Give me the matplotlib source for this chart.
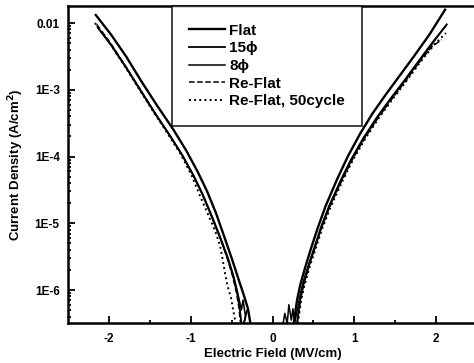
# J-E curves (log scale) for flat / patterned electrodes

import numpy as np
import matplotlib
matplotlib.use("Agg")
import matplotlib.pyplot as plt

OUTPUT = "out.png"

# ---- data: field (MV/cm), log10 current density (A/cm2) ----
flat_left_e = [-2.16, -1.97, -1.79, -1.61, -1.42, -1.21, -1.05, -0.91, -0.80, -0.69,
               -0.59, -0.50, -0.42, -0.35, -0.30, -0.27]
flat_left_j = [-1.88, -2.18, -2.50, -2.86, -3.22, -3.60, -3.92, -4.24, -4.52, -4.85,
               -5.20, -5.52, -5.82, -6.08, -6.28, -6.50]
flat_right_e = [0.26, 0.30, 0.34, 0.40, 0.47, 0.55, 0.65, 0.79, 0.92, 1.07,
                1.22, 1.38, 1.56, 1.74, 1.92, 2.11]
flat_right_j = [-6.50, -6.15, -5.92, -5.66, -5.38, -5.08, -4.74, -4.34, -4.00, -3.66,
                -3.36, -3.08, -2.78, -2.48, -2.17, -1.80]

p15_left_e = [-2.14, -1.98, -1.80, -1.62, -1.44, -1.27, -1.11, -0.97, -0.86, -0.75,
              -0.64, -0.55, -0.48, -0.43, -0.40, -0.38]
p15_left_j = [-2.06, -2.32, -2.65, -3.00, -3.35, -3.66, -3.97, -4.28, -4.56, -4.88,
              -5.22, -5.52, -5.80, -6.06, -6.28, -6.50]
p15_right_e = [0.30, 0.34, 0.38, 0.45, 0.52, 0.60, 0.70, 0.84, 0.97, 1.12,
               1.28, 1.44, 1.62, 1.80, 1.97, 2.13]
p15_right_j = [-6.50, -6.15, -5.92, -5.62, -5.36, -5.06, -4.74, -4.36, -4.04, -3.72,
               -3.42, -3.15, -2.86, -2.56, -2.28, -2.02]

p8_left_e = [-2.13, -1.97, -1.79, -1.61, -1.43, -1.26, -1.10, -0.96, -0.85, -0.74,
             -0.63, -0.54, -0.47, -0.42, -0.38, -0.36, -0.33, -0.35, -0.31]
p8_left_j = [-2.08, -2.33, -2.66, -3.01, -3.36, -3.67, -3.98, -4.29, -4.57, -4.89,
             -5.23, -5.53, -5.81, -6.07, -6.30, -6.15, -6.40, -6.50, -6.30]
p8_right_e = [0.13, 0.15, 0.18, 0.20, 0.23, 0.25, 0.27, 0.29, 0.33, 0.37, 0.44, 0.51,
              0.59, 0.69, 0.83, 0.96, 1.11, 1.27, 1.43, 1.61, 1.79, 1.96, 2.12]
p8_right_j = [-6.50, -6.35, -6.50, -6.22, -6.45, -6.28, -6.50, -6.38, -6.12, -5.90,
              -5.62, -5.36, -5.06, -4.74, -4.36, -4.04, -3.72, -3.42, -3.15, -2.86,
              -2.56, -2.28, -2.04]

reflat_left_e = [-2.15, -1.98, -1.80, -1.62, -1.44, -1.27, -1.11, -0.97, -0.86, -0.75,
                 -0.64, -0.56, -0.49, -0.44, -0.41, -0.39]
reflat_left_j = [-2.02, -2.30, -2.64, -2.99, -3.34, -3.66, -3.97, -4.28, -4.56, -4.88,
                 -5.22, -5.50, -5.78, -6.04, -6.27, -6.50]
reflat_right_e = [0.30, 0.34, 0.38, 0.45, 0.52, 0.60, 0.70, 0.84, 0.97, 1.12,
                  1.28, 1.44, 1.62, 1.80, 1.95, 2.07]
reflat_right_j = [-6.50, -6.14, -5.90, -5.61, -5.35, -5.06, -4.75, -4.38, -4.06, -3.74,
                  -3.44, -3.17, -2.88, -2.58, -2.35, -2.25]

cyc50_left_e = [-2.17, -1.99, -1.81, -1.63, -1.45, -1.28, -1.12, -0.99, -0.89, -0.79,
                -0.70, -0.64, -0.61, -0.58, -0.55, -0.51, -0.48, -0.45]
cyc50_left_j = [-2.00, -2.30, -2.64, -2.99, -3.34, -3.66, -3.97, -4.28, -4.58, -4.86,
                -5.12, -5.34, -5.54, -5.75, -5.94, -6.10, -6.30, -6.50]
cyc50_right_e = [0.31, 0.35, 0.39, 0.46, 0.53, 0.61, 0.71, 0.85, 0.98, 1.13,
                 1.29, 1.45, 1.63, 1.81, 1.98, 2.12]
cyc50_right_j = [-6.50, -6.16, -5.93, -5.63, -5.37, -5.07, -4.76, -4.38, -4.06, -3.74,
                 -3.44, -3.17, -2.88, -2.58, -2.32, -2.15]

plt.rcParams["font.family"] = ["Liberation Sans", "DejaVu Sans"]
plt.rcParams["font.weight"] = "bold"


def plot_jv():
    fig = plt.figure(figsize=(4.74, 3.63), dpi=100)
    ax = fig.add_axes([68 / 474, 40 / 363, 409 / 474, 317 / 363])

    series = [
        ("Flat", flat_left_e, flat_left_j, flat_right_e, flat_right_j, "-", 1.7),
        ("15\u03d5", p15_left_e, p15_left_j, p15_right_e, p15_right_j, "-", 1.3),
        ("8\u03d5", p8_left_e, p8_left_j, p8_right_e, p8_right_j, "-", 1.1),
        ("Re-Flat", reflat_left_e, reflat_left_j, reflat_right_e, reflat_right_j, "--", 1.1),
        ("Re-Flat, 50cycle", cyc50_left_e, cyc50_left_j, cyc50_right_e, cyc50_right_j, ":", 1.4),
    ]
    for label, le, lj, re_, rj, ls, lw in series:
        ax.plot(le, 10 ** np.array(lj), color="black", linestyle=ls, linewidth=lw, label=label)
        ax.plot(re_, 10 ** np.array(rj), color="black", linestyle=ls, linewidth=lw)

    ax.set_yscale("log")
    ax.set_xlim(-2.5, 2.5)
    ax.set_ylim(10 ** -6.494, 10 ** -1.745)

    ax.set_xticks([-2, -1, 0, 1, 2])
    ax.set_xticklabels(["-2", "-1", "0", "1", "2"])
    ax.set_xticks([-1.5, -0.5, 0.5, 1.5], minor=True)
    ax.set_yticks([1e-6, 1e-5, 1e-4, 1e-3, 1e-2])
    ax.set_yticklabels(["1E-6", "1E-5", "1E-4", "1E-3", "0.01"])

    ax.tick_params(which="both", direction="in", width=1.3, labelsize=8.5)
    ax.tick_params(which="major", length=5)
    ax.tick_params(axis="x", which="major", pad=7)
    ax.tick_params(axis="y", which="major", pad=6)
    ax.tick_params(which="minor", length=2.5)
    for sp in ax.spines.values():
        sp.set_linewidth(1.8)

    ax.set_xlabel("Electric Field (MV/cm)", fontsize=9.5, fontweight="bold", labelpad=2)
    ax.set_ylabel("Current Density (A/cm$^2$)", fontsize=9.5, fontweight="bold", labelpad=6)

    leg = ax.legend(loc="upper left", bbox_to_anchor=(0.254, 1.0), borderaxespad=0,
                    prop={"size": 11, "weight": "bold"}, frameon=True, fancybox=False,
                    handlelength=2.3, handletextpad=0.3, labelspacing=0.24, borderpad=1.15)
    leg.get_frame().set_edgecolor("black")
    leg.get_frame().set_linewidth(1.3)

    fig.savefig(OUTPUT, dpi=100)


if __name__ == "__main__":
    plot_jv()
